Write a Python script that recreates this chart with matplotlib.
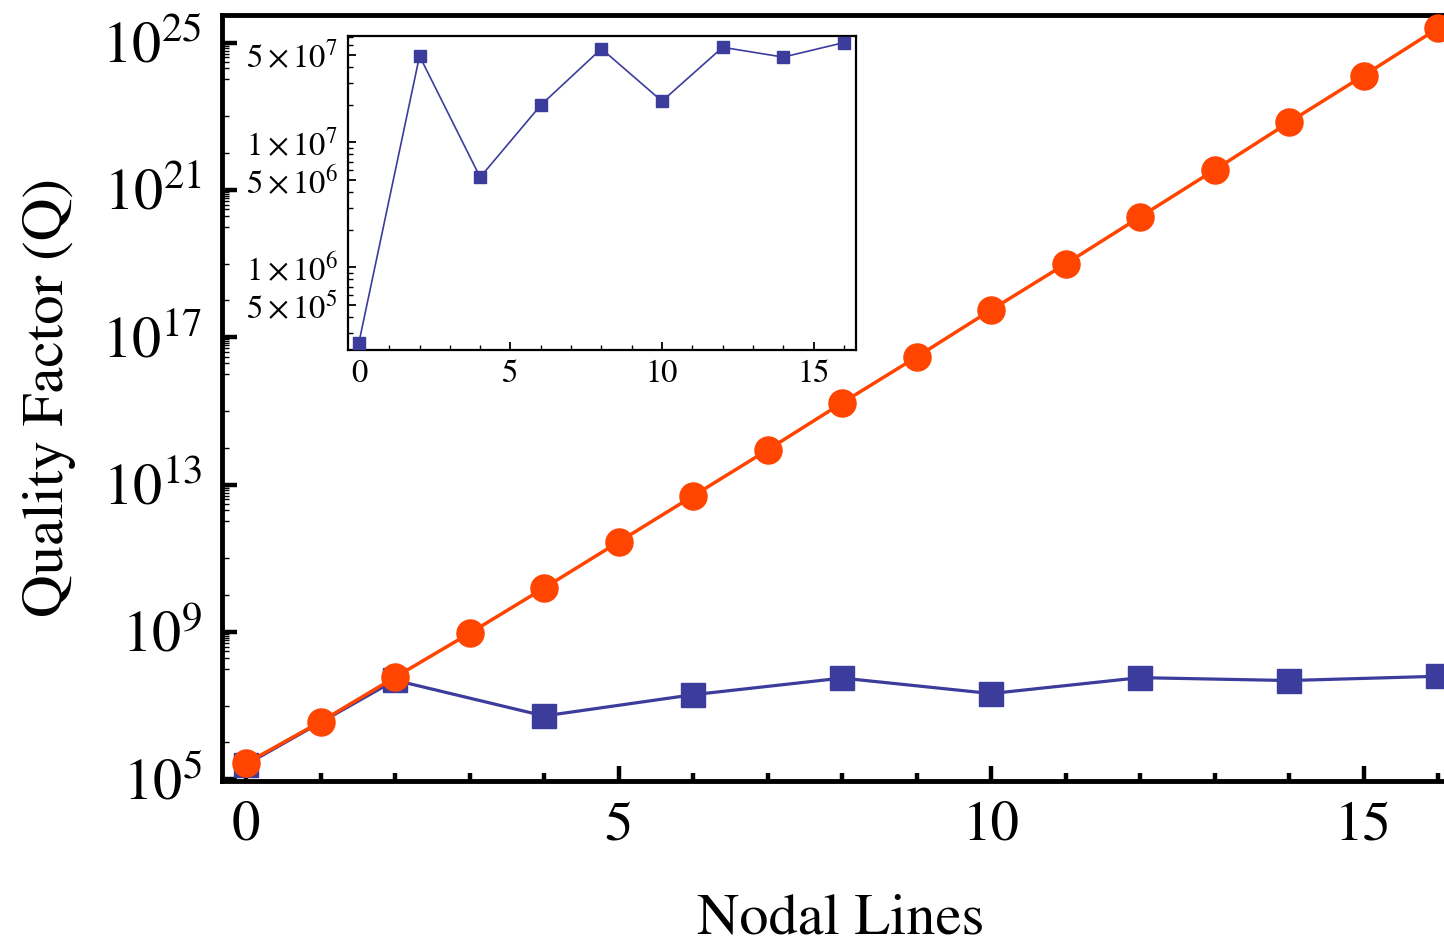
import matplotlib
matplotlib.use("Agg")
import matplotlib.pyplot as plt
from matplotlib.ticker import FixedLocator, NullFormatter

plt.rcParams["font.family"] = ["STIXGeneral", "DejaVu Serif"]
plt.rcParams["mathtext.fontset"] = "stix"

# Quality factor versus number of nodal lines
nodal_lines = list(range(17))
q_ideal = [2.72e5, 3.66e6, 5.89e7, 9.2e8, 1.56e10, 2.77e11, 4.92e12, 8.73e13,
           1.65e15, 2.92e16, 5.52e17, 9.8e18, 1.85e20, 3.49e21, 6.9e22,
           1.27e24, 2.46e25]

even_lines = [0, 2, 4, 6, 8, 10, 12, 14, 16]
q_real = [2.5e5, 4.9e7, 5.25e6, 1.98e7, 5.6e7, 2.13e7, 5.75e7, 4.8e7, 6.27e7]

main_xticks = [0, 5, 10, 15]
main_yexp = [5, 9, 13, 17, 21, 25]
inset_yticks = [5e5, 1e6, 5e6, 1e7, 5e7]
inset_ylabels = [r"$5\times10^{5}$", r"$1\times10^{6}$", r"$5\times10^{6}$",
                 r"$1\times10^{7}$", r"$5\times10^{7}$"]

ORANGE = "#FF4500"
BLUE = "#3C3C9C"

W, H = 1444, 939
fig = plt.figure(figsize=(W / 100, H / 100), dpi=100)

# main axes
l, r, t, b = 221.5, 1444, 15, 781
ax = fig.add_axes([l / W, (H - b) / H, (r - l) / W, (b - t) / H])
ax.set_yscale("log")
ax.plot(even_lines, q_real, color=BLUE, lw=2.3, marker="s", ms=17,
        mec=BLUE, mfc=BLUE, zorder=3, clip_on=False)
ax.plot(nodal_lines, q_ideal, color=ORANGE, lw=2.5, marker="o", ms=19.5,
        mec=ORANGE, mfc=ORANGE, zorder=4, clip_on=False)
ax.set_xlim(-0.329, 16.08)
ax.set_ylim(10 ** 4.954, 10 ** 25.75)

for side in ("left", "bottom", "top"):
    ax.spines[side].set_linewidth(3.5)
ax.spines["right"].set_visible(False)

ax.set_xticks(main_xticks)
ax.set_xticklabels([str(v) for v in main_xticks])
ax.xaxis.set_minor_locator(FixedLocator(nodal_lines))
ax.tick_params(axis="x", which="major", direction="in", length=11, width=3.2,
               labelsize=41, pad=14, top=False)
ax.tick_params(axis="x", which="minor", direction="in", length=6, width=3.2,
               top=False)

ax.set_yticks([10.0 ** e for e in main_yexp])
ax.set_yticklabels([r"$10^{%d}$" % e for e in main_yexp])
minor_y = [10.0 ** k for k in range(5, 26)]
for e in main_yexp:
    minor_y += [m * 10.0 ** (e - 1) for m in range(2, 10)]
ax.yaxis.set_minor_locator(FixedLocator(minor_y))
ax.yaxis.set_minor_formatter(NullFormatter())
ax.tick_params(axis="y", which="major", direction="in", length=11, width=3.2,
               labelsize=42, pad=14, right=False)
ax.tick_params(axis="y", which="minor", direction="in", length=5, width=1.0,
               right=False)

fig.text(841 / W, 6 / H, "Nodal Lines", fontsize=42, ha="center",
         va="baseline")
fig.text(63 / W, (H - 397) / H, "Quality Factor (Q)", fontsize=42.5,
         rotation=90, ha="center", va="baseline", rotation_mode="anchor")

# inset
il, ir, it, ib = 348, 856, 36, 350
axi = fig.add_axes([il / W, (H - ib) / H, (ir - il) / W, (ib - it) / H])
axi.set_facecolor("white")
axi.set_yscale("log")
axi.plot(even_lines, q_real, color=BLUE, lw=1.2, marker="s", ms=8,
         mec=BLUE, mfc=BLUE, clip_on=False, zorder=3)
axi.set_xlim(-0.36, 16.4)
axi.set_ylim(2.18e5, 7.08e7)
for sp in axi.spines.values():
    sp.set_linewidth(1.6)
axi.set_xticks(main_xticks)
axi.set_xticklabels([str(v) for v in main_xticks])
axi.xaxis.set_minor_locator(FixedLocator(nodal_lines))
axi.set_yticks(inset_yticks)
axi.set_yticklabels(inset_ylabels)
minor_iy = [m * 10.0 ** k for k in range(5, 8) for m in range(1, 10)]
axi.yaxis.set_minor_locator(FixedLocator(minor_iy))
axi.yaxis.set_minor_formatter(NullFormatter())
axi.tick_params(which="major", direction="in", length=6, width=1.3,
                labelsize=23.5, pad=7, top=False, right=False)
axi.tick_params(which="minor", direction="in", length=3.5, width=1.0,
                top=False, right=False)

fig.savefig("out.png", dpi=100)
